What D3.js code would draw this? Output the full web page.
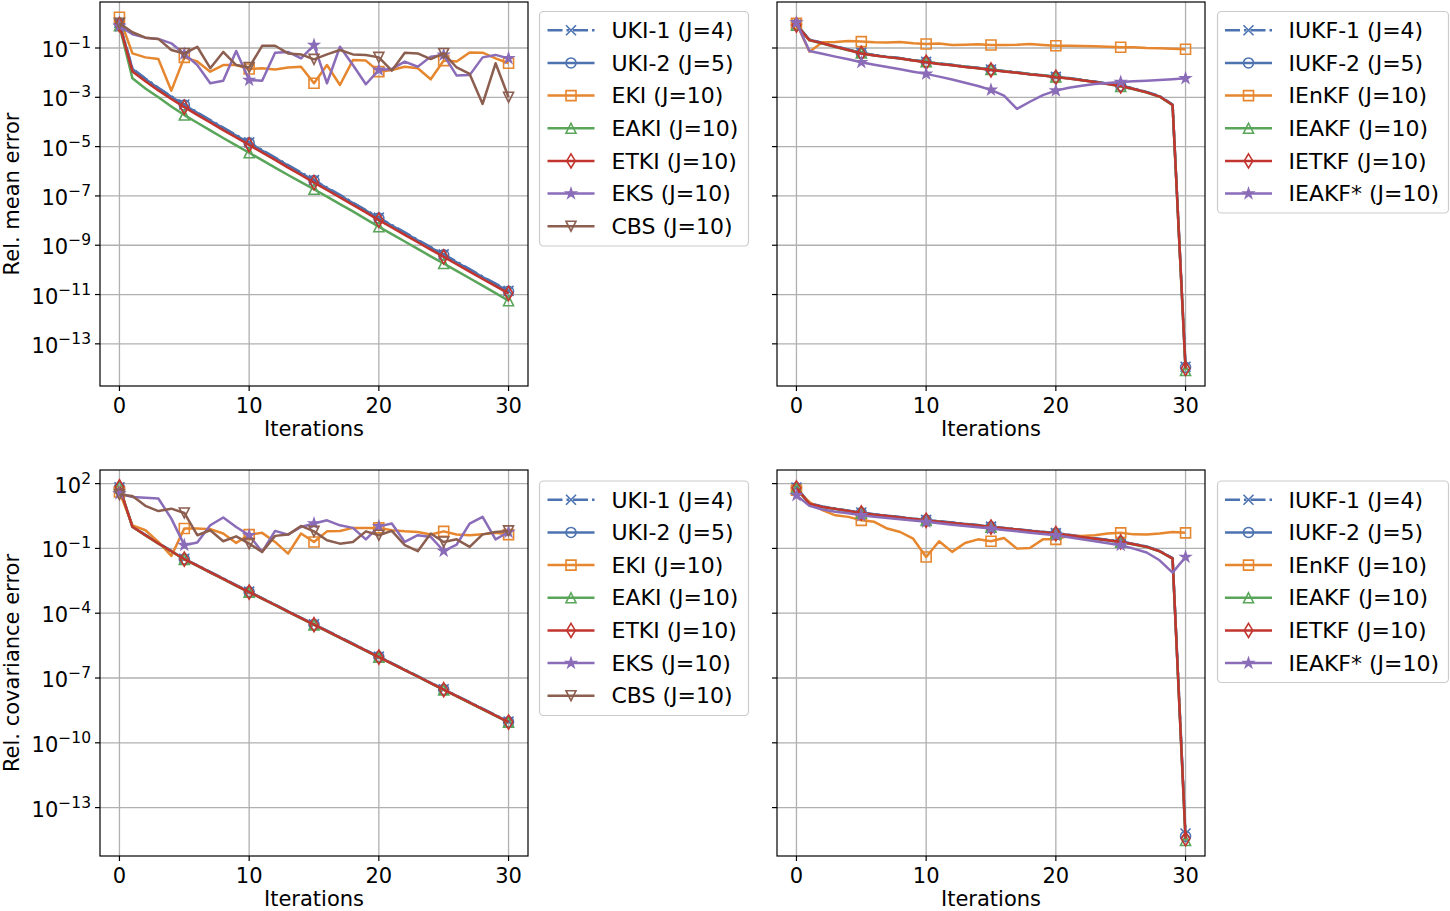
<!DOCTYPE html>
<html lang="en">
<head>
<meta charset="utf-8">
<title>Relative mean / covariance error against iterations</title>
<script src="https://d3js.org/d3.v7.min.js"></script>
<style>
  body { margin: 0; background: #fff; }
  svg { display: block; font-family: "DejaVu Sans", sans-serif; }
</style>
</head>
<body>
<svg id="chart" width="1450" height="911"></svg>
<script>
// every series below holds log10 of the relative error
const iterations = d3.range(0, 31);
const xTicks = [0, 10, 20, 30];
const meanTicks = [-13, -11, -9, -7, -5, -3, -1];
const covTicks = [-13, -10, -7, -4, -1, 2];

const ensembleLabels = ["UKI-1 (J=4)", "UKI-2 (J=5)", "EKI (J=10)", "EAKI (J=10)", "ETKI (J=10)", "EKS (J=10)", "CBS (J=10)"];
const filterLabels = ["IUKF-1 (J=4)", "IUKF-2 (J=5)", "IEnKF (J=10)", "IEAKF (J=10)", "IETKF (J=10)", "IEAKF* (J=10)"];

// top left: mean error, ensemble methods
const uki1Mean = [0.02, -1.83, -2.24, -2.61, -2.96, -3.29, -3.61, -3.92, -4.23, -4.53, -4.83, -5.14, -5.44, -5.75, -6.05, -6.36, -6.66, -6.96, -7.27, -7.57, -7.88, -8.18, -8.48, -8.78, -9.08, -9.37, -9.67, -9.97, -10.27, -10.56, -10.85];
const uki2Mean = [0.0, -1.85, -2.26, -2.63, -2.98, -3.31, -3.63, -3.94, -4.25, -4.55, -4.85, -5.16, -5.46, -5.77, -6.07, -6.38, -6.68, -6.98, -7.29, -7.59, -7.90, -8.20, -8.50, -8.80, -9.10, -9.39, -9.69, -9.99, -10.29, -10.58, -10.87];
const ekiMean = [0.245, -1.22, -1.38, -1.45, -2.73, -1.38, -1.55, -1.96, -1.69, -1.69, -1.85, -1.82, -1.87, -1.79, -1.76, -2.43, -1.69, -2.50, -1.49, -1.51, -1.96, -1.89, -1.76, -1.82, -2.27, -1.51, -1.55, -1.18, -1.19, -1.42, -1.62];
const eakiMean = [-0.1, -2.23, -2.64, -3.0, -3.37, -3.72, -4.03, -4.34, -4.65, -4.95, -5.25, -5.55, -5.85, -6.15, -6.44, -6.73, -7.03, -7.33, -7.63, -7.94, -8.25, -8.55, -8.85, -9.15, -9.45, -9.74, -10.04, -10.34, -10.64, -10.94, -11.25];
const etkiMean = [-0.05, -1.95, -2.35, -2.72, -3.07, -3.40, -3.71, -4.02, -4.33, -4.63, -4.93, -5.24, -5.54, -5.85, -6.15, -6.46, -6.76, -7.06, -7.37, -7.67, -7.98, -8.28, -8.58, -8.88, -9.18, -9.47, -9.77, -10.07, -10.37, -10.66, -10.95];
const eksMean = [-0.11, -0.44, -0.58, -0.63, -0.81, -1.24, -1.69, -2.43, -2.33, -1.12, -2.30, -2.33, -1.19, -1.16, -1.42, -0.88, -2.43, -0.95, -1.69, -2.47, -1.89, -1.85, -1.55, -1.76, -1.35, -1.28, -2.12, -2.10, -1.38, -1.28, -1.42];
const cbsMean = [0.0, -0.36, -0.58, -0.63, -1.08, -1.22, -0.95, -1.82, -1.16, -1.69, -1.79, -0.91, -0.91, -1.22, -1.26, -1.46, -1.26, -1.08, -1.26, -1.28, -1.38, -1.92, -1.19, -1.22, -1.45, -1.22, -1.79, -2.05, -3.27, -1.62, -3.00];

// top right: mean error, iterative filters
const iukf1Mean = [-0.04, -0.66, -0.79, -0.93, -1.06, -1.19, -1.28, -1.35, -1.41, -1.49, -1.56, -1.63, -1.68, -1.75, -1.80, -1.87, -1.93, -1.98, -2.05, -2.10, -2.17, -2.22, -2.29, -2.36, -2.44, -2.52, -2.64, -2.78, -2.95, -3.29, -13.93];
const iukf2Mean = [-0.05, -0.66, -0.80, -0.94, -1.07, -1.20, -1.29, -1.36, -1.42, -1.50, -1.57, -1.64, -1.69, -1.76, -1.81, -1.88, -1.94, -1.99, -2.06, -2.11, -2.18, -2.23, -2.30, -2.37, -2.45, -2.53, -2.65, -2.79, -2.96, -3.30, -13.95];
const ienkfMean = [0.0, -1.15, -0.77, -0.76, -0.72, -0.74, -0.77, -0.78, -0.76, -0.81, -0.84, -0.82, -0.88, -0.87, -0.85, -0.88, -0.88, -0.87, -0.84, -0.88, -0.91, -0.91, -0.92, -0.93, -0.95, -0.97, -0.97, -1.00, -1.01, -1.03, -1.05];
const ieakfMean = [-0.08, -0.69, -0.82, -0.96, -1.09, -1.20, -1.30, -1.37, -1.43, -1.51, -1.56, -1.64, -1.70, -1.76, -1.82, -1.87, -1.94, -2.00, -2.06, -2.12, -2.17, -2.24, -2.31, -2.38, -2.46, -2.56, -2.67, -2.81, -2.98, -3.32, -14.08];
const ietkfMean = [-0.07, -0.68, -0.81, -0.95, -1.08, -1.22, -1.30, -1.37, -1.43, -1.51, -1.58, -1.65, -1.70, -1.77, -1.82, -1.89, -1.95, -2.00, -2.07, -2.12, -2.19, -2.24, -2.31, -2.38, -2.46, -2.54, -2.66, -2.80, -2.97, -3.31, -14.00];
const ieakfStarMean = [0.03, -1.12, -1.23, -1.35, -1.46, -1.58, -1.68, -1.77, -1.86, -1.96, -2.05, -2.16, -2.28, -2.41, -2.54, -2.70, -2.93, -3.47, -3.18, -2.91, -2.73, -2.61, -2.53, -2.46, -2.42, -2.38, -2.35, -2.33, -2.30, -2.27, -2.23];

// bottom left: covariance error, ensemble methods
const uki1Cov = [1.83, 0.02, -0.37, -0.75, -1.11, -1.48, -1.78, -2.09, -2.39, -2.70, -3.00, -3.30, -3.60, -3.91, -4.21, -4.51, -4.81, -5.11, -5.41, -5.71, -6.01, -6.31, -6.61, -6.91, -7.22, -7.52, -7.82, -8.12, -8.42, -8.72, -9.02];
const uki2Cov = [1.82, 0.01, -0.38, -0.76, -1.12, -1.49, -1.79, -2.10, -2.40, -2.71, -3.01, -3.31, -3.61, -3.92, -4.22, -4.52, -4.82, -5.12, -5.42, -5.72, -6.02, -6.32, -6.62, -6.92, -7.23, -7.53, -7.83, -8.13, -8.43, -8.73, -9.03];
const ekiCov = [1.61, 0.07, -0.16, -0.70, -1.35, -0.08, -0.08, -0.11, -0.31, -0.75, -0.36, -0.28, -0.70, -1.24, -0.31, -0.70, -0.21, -0.19, -0.05, -0.05, -0.05, -0.16, -0.21, -0.24, -0.36, -0.21, -0.36, -0.39, -0.35, -0.28, -0.36];
const eakiCov = [1.87, -0.01, -0.40, -0.78, -1.14, -1.51, -1.81, -2.12, -2.42, -2.73, -3.03, -3.33, -3.63, -3.94, -4.24, -4.54, -4.84, -5.14, -5.44, -5.74, -6.04, -6.34, -6.64, -6.94, -7.25, -7.55, -7.85, -8.15, -8.45, -8.75, -9.05];
const etkiCov = [1.85, 0.0, -0.39, -0.77, -1.13, -1.50, -1.80, -2.11, -2.41, -2.72, -3.02, -3.32, -3.62, -3.93, -4.23, -4.53, -4.83, -5.13, -5.43, -5.73, -6.03, -6.33, -6.63, -6.93, -7.24, -7.54, -7.84, -8.14, -8.44, -8.74, -9.04];
const eksCov = [1.54, 1.38, 1.34, 1.31, 0.38, -0.85, -0.73, 0.07, 0.43, -0.01, -0.39, -1.16, -0.19, -0.36, -0.01, 0.15, 0.30, 0.07, -0.05, -0.58, 0.02, 0.15, -0.70, -0.39, -0.47, -1.12, -0.82, 0.15, 0.46, -0.58, -0.24];
const cbsCov = [1.49, 1.43, 0.97, 0.73, 0.84, 0.64, -0.39, -0.16, -0.67, -0.44, -0.78, -1.16, -0.42, -0.36, 0.04, -0.21, -0.62, -0.78, -0.70, -0.21, -0.39, -0.19, -0.85, -1.13, -0.31, -0.70, -0.58, -0.93, -0.35, -0.24, -0.19];

// bottom right: covariance error, iterative filters
const iukf1Cov = [1.82, 1.09, 0.94, 0.85, 0.75, 0.66, 0.58, 0.52, 0.45, 0.38, 0.32, 0.26, 0.20, 0.14, 0.08, 0.01, -0.05, -0.11, -0.17, -0.23, -0.29, -0.37, -0.45, -0.53, -0.60, -0.68, -0.79, -0.91, -1.11, -1.45, -14.20];
const iukf2Cov = [1.81, 1.08, 0.93, 0.84, 0.74, 0.65, 0.57, 0.51, 0.44, 0.37, 0.31, 0.25, 0.19, 0.13, 0.07, 0.00, -0.06, -0.12, -0.18, -0.24, -0.30, -0.38, -0.46, -0.54, -0.61, -0.69, -0.80, -0.92, -1.12, -1.46, -14.33];
const ienkfCov = [1.69, 1.15, 0.77, 0.53, 0.46, 0.30, 0.23, -0.08, -0.24, -0.55, -1.40, -0.67, -1.16, -0.75, -0.58, -0.67, -0.52, -1.01, -0.98, -0.58, -0.58, -0.42, -0.42, -0.39, -0.31, -0.28, -0.35, -0.36, -0.31, -0.24, -0.28];
const ieakfCov = [1.79, 1.06, 0.91, 0.82, 0.72, 0.63, 0.55, 0.49, 0.42, 0.35, 0.29, 0.23, 0.17, 0.11, 0.05, -0.02, -0.08, -0.14, -0.20, -0.26, -0.32, -0.40, -0.48, -0.56, -0.63, -0.71, -0.82, -0.94, -1.14, -1.48, -14.52];
const ietkfCov = [1.80, 1.07, 0.92, 0.83, 0.73, 0.64, 0.56, 0.50, 0.43, 0.36, 0.30, 0.24, 0.18, 0.12, 0.06, -0.01, -0.07, -0.13, -0.19, -0.25, -0.31, -0.39, -0.47, -0.55, -0.62, -0.70, -0.81, -0.93, -1.13, -1.47, -14.44];
const ieakfStarCov = [1.46, 0.97, 0.80, 0.70, 0.63, 0.53, 0.47, 0.41, 0.35, 0.29, 0.23, 0.16, 0.10, 0.04, -0.02, -0.08, -0.15, -0.21, -0.27, -0.33, -0.39, -0.48, -0.58, -0.67, -0.76, -0.85, -1.01, -1.19, -1.55, -2.12, -1.40];

const colors = ["#4c72b0", "#e6862e", "#59a55a", "#c2352f", "#8a6cb8", "#8c5e4f"];
const styles = [
  { color: colors[0], marker: "x", dash: "15,4,2.5,4" },
  { color: colors[0], marker: "o" },
  { color: colors[1], marker: "s" },
  { color: colors[2], marker: "^" },
  { color: colors[3], marker: "d" },
  { color: colors[4], marker: "*" },
  { color: colors[5], marker: "v" }
];

const panels = [
  { x0: 100, x1: 528, y0: 2, y1: 386, ylog: [-14.71, 0.866], yTicks: meanTicks, tickLabels: true,
    ylabel: "Rel. mean error", labels: ensembleLabels,
    series: [uki1Mean, uki2Mean, ekiMean, eakiMean, etkiMean, eksMean, cbsMean],
    legend: { x: 539.5, y: 11.5, w: 209, h: 234.5, hx: 547.5, tx: 611.5 } },
  { x0: 777, x1: 1205, y0: 2, y1: 386, ylog: [-14.71, 0.866], yTicks: meanTicks, tickLabels: false,
    labels: filterLabels,
    series: [iukf1Mean, iukf2Mean, ienkfMean, ieakfMean, ietkfMean, ieakfStarMean],
    legend: { x: 1217.5, y: 11.5, w: 231, h: 201.5, hx: 1225, tx: 1288.5 } },
  { x0: 100, x1: 528, y0: 470, y1: 856, ylog: [-15.24, 2.63], yTicks: covTicks, tickLabels: true,
    ylabel: "Rel. covariance error", labels: ensembleLabels,
    series: [uki1Cov, uki2Cov, ekiCov, eakiCov, etkiCov, eksCov, cbsCov],
    legend: { x: 539.5, y: 481, w: 209, h: 234.5, hx: 547.5, tx: 611.5 } },
  { x0: 777, x1: 1205, y0: 470, y1: 856, ylog: [-15.24, 2.63], yTicks: covTicks, tickLabels: false,
    labels: filterLabels,
    series: [iukf1Cov, iukf2Cov, ienkfCov, ieakfCov, ietkfCov, ieakfStarCov],
    legend: { x: 1217.5, y: 481, w: 231, h: 201.5, hx: 1225, tx: 1288.5 } }
];

const ms = 10;
function markerPath(type, s) {
  const h = s / 2;
  switch (type) {
    case "x": return `M${-h},${-h}L${h},${h}M${-h},${h}L${h},${-h}`;
    case "o": return `M${h},0A${h},${h} 0 1,1 ${-h},0A${h},${h} 0 1,1 ${h},0Z`;
    case "s": return `M${-h},${-h}H${h}V${h}H${-h}Z`;
    case "^": return `M0,${-h}L${h},${h}L${-h},${h}Z`;
    case "v": return `M0,${h}L${h},${-h}L${-h},${-h}Z`;
    case "d": {
      const dh = s * 0.707, dw = dh * 0.6;
      return `M0,${-dh}L${dw},0L0,${dh}L${-dw},0Z`;
    }
    case "*": {
      const pts = [];
      for (let k = 0; k < 10; k++) {
        const r = k % 2 ? h * 0.382 : h;
        const a = -Math.PI / 2 + k * Math.PI / 5;
        pts.push([r * Math.cos(a), r * Math.sin(a)]);
      }
      return "M" + pts.map(p => p.join(",")).join("L") + "Z";
    }
  }
}

function drawMarker(g, st, cx, cy) {
  g.append("path")
    .attr("d", markerPath(st.marker, ms))
    .attr("transform", `translate(${cx},${cy})`)
    .attr("fill", st.marker === "*" ? st.color : "none")
    .attr("stroke", st.color)
    .attr("stroke-width", 1.6)
    .attr("stroke-linejoin", "miter");
}

const svg = d3.select("#chart");

panels.forEach((p, pi) => {
  const x = d3.scaleLinear().domain([-1.5, 31.5]).range([p.x0, p.x1]);
  const y = d3.scaleLog().domain(p.ylog.map(e => Math.pow(10, e))).range([p.y1, p.y0]);
  const g = svg.append("g");

  g.append("clipPath").attr("id", "clip" + pi)
    .append("rect").attr("x", p.x0).attr("y", p.y0)
    .attr("width", p.x1 - p.x0).attr("height", p.y1 - p.y0);

  // grid
  g.selectAll(".gx").data(xTicks).enter().append("line")
    .attr("x1", d => x(d)).attr("x2", d => x(d))
    .attr("y1", p.y0).attr("y2", p.y1)
    .attr("stroke", "#b0b0b0").attr("stroke-width", 1.3);
  g.selectAll(".gy").data(p.yTicks).enter().append("line")
    .attr("x1", p.x0).attr("x2", p.x1)
    .attr("y1", d => y(Math.pow(10, d))).attr("y2", d => y(Math.pow(10, d)))
    .attr("stroke", "#b0b0b0").attr("stroke-width", 1.3);

  // series
  const plot = g.append("g").attr("clip-path", `url(#clip${pi})`);
  const line = d3.line().x((d, i) => x(iterations[i])).y(d => y(Math.pow(10, d)));
  p.series.forEach((vals, si) => {
    const st = styles[si];
    plot.append("path")
      .attr("d", line(vals))
      .attr("fill", "none")
      .attr("stroke", st.color)
      .attr("stroke-width", 2.5)
      .attr("stroke-linejoin", "round")
      .attr("stroke-dasharray", st.dash || null);
    iterations.filter(i => i % 5 === 0).forEach(i => {
      drawMarker(plot, st, x(i), y(Math.pow(10, vals[i])));
    });
  });

  // spines
  g.append("rect").attr("x", p.x0).attr("y", p.y0)
    .attr("width", p.x1 - p.x0).attr("height", p.y1 - p.y0)
    .attr("fill", "none").attr("stroke", "#000").attr("stroke-width", 1.2);

  // x ticks
  xTicks.forEach(t => {
    g.append("line").attr("x1", x(t)).attr("x2", x(t))
      .attr("y1", p.y1).attr("y2", p.y1 + 5)
      .attr("stroke", "#000").attr("stroke-width", 1.2);
    g.append("text").attr("x", x(t)).attr("y", p.y1 + 27)
      .attr("text-anchor", "middle").attr("font-size", 21).text(t);
  });
  g.append("text").attr("x", (p.x0 + p.x1) / 2).attr("y", p.y1 + 50)
    .attr("text-anchor", "middle").attr("font-size", 21).text("Iterations");

  // y ticks
  p.yTicks.forEach(t => {
    const ty = y(Math.pow(10, t));
    g.append("line").attr("x1", p.x0 - 5).attr("x2", p.x0)
      .attr("y1", ty).attr("y2", ty)
      .attr("stroke", "#000").attr("stroke-width", 1.2);
    if (p.tickLabels) {
      const lab = g.append("text").attr("x", p.x0 - 9).attr("y", ty + 9)
        .attr("text-anchor", "end").attr("font-size", 21);
      lab.append("tspan").text("10");
      lab.append("tspan").attr("dy", -9).attr("font-size", 15.5)
        .text(t < 0 ? "\u2212" + (-t) : String(t));
    }
  });
  if (p.ylabel) {
    g.append("text")
      .attr("transform", `translate(19,${(p.y0 + p.y1) / 2}) rotate(-90)`)
      .attr("text-anchor", "middle").attr("font-size", 21).text(p.ylabel);
  }

  // legend
  const L = p.legend;
  const lg = g.append("g");
  lg.append("rect").attr("x", L.x).attr("y", L.y).attr("width", L.w).attr("height", L.h)
    .attr("rx", 4).attr("fill", "#fff").attr("fill-opacity", 0.8)
    .attr("stroke", "#cccccc").attr("stroke-width", 1.2);
  p.labels.forEach((lab, k) => {
    const st = styles[k];
    const ry = L.y + 18.8 + k * 32.65;
    lg.append("line").attr("x1", L.hx).attr("x2", L.hx + 47)
      .attr("y1", ry).attr("y2", ry)
      .attr("stroke", st.color).attr("stroke-width", 2.5)
      .attr("stroke-dasharray", st.dash || null);
    drawMarker(lg, st, L.hx + 23.5, ry);
    lg.append("text").attr("x", L.tx).attr("y", ry + 7.7)
      .attr("font-size", 22).text(lab);
  });
});
</script>
</body>
</html>
